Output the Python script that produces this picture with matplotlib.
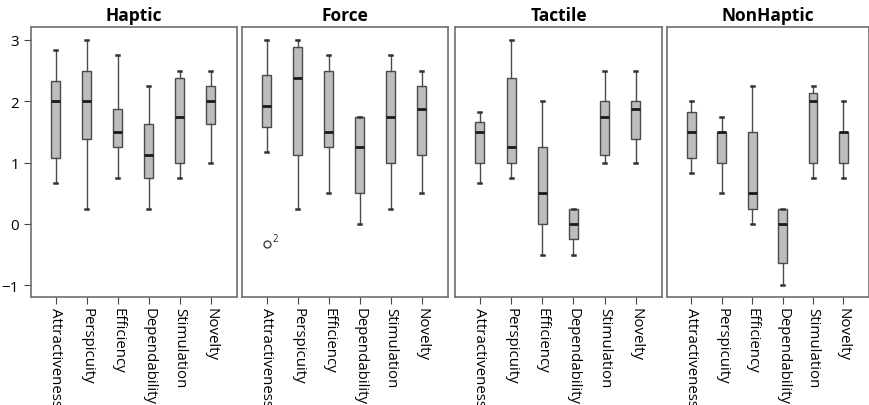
import matplotlib.pyplot as plt

plt.rcParams["font.family"] = ["Open Sans", "DejaVu Sans"]

panels = ["Haptic", "Force", "Tactile", "NonHaptic"]
scales = ["Attractiveness", "Perspicuity", "Efficiency", "Dependability",
          "Stimulation", "Novelty"]

# per scale: (whisker low, Q1, median, Q3, whisker high)
haptic = [(0.67, 1.08, 2.0, 2.33, 2.83),
          (0.25, 1.38, 2.0, 2.5, 3.0),
          (0.75, 1.25, 1.5, 1.88, 2.75),
          (0.25, 0.75, 1.13, 1.63, 2.25),
          (0.75, 1.0, 1.75, 2.38, 2.5),
          (1.0, 1.63, 2.0, 2.25, 2.5)]
force = [(1.17, 1.58, 1.92, 2.42, 3.0),
         (0.25, 1.13, 2.38, 2.88, 3.0),
         (0.5, 1.25, 1.5, 2.5, 2.75),
         (0.0, 0.5, 1.25, 1.75, 1.75),
         (0.25, 1.0, 1.75, 2.5, 2.75),
         (0.5, 1.13, 1.88, 2.25, 2.5)]
tactile = [(0.67, 1.0, 1.5, 1.67, 1.83),
           (0.75, 1.0, 1.25, 2.38, 3.0),
           (-0.5, 0.0, 0.5, 1.25, 2.0),
           (-0.5, -0.25, 0.0, 0.25, 0.25),
           (1.0, 1.13, 1.75, 2.0, 2.5),
           (1.0, 1.38, 1.88, 2.0, 2.5)]
nonhaptic = [(0.83, 1.08, 1.5, 1.83, 2.0),
             (0.5, 1.0, 1.5, 1.5, 1.75),
             (0.0, 0.25, 0.5, 1.5, 2.25),
             (-1.0, -0.63, 0.0, 0.25, 0.25),
             (0.75, 1.0, 2.0, 2.13, 2.25),
             (0.75, 1.0, 1.5, 1.5, 2.0)]
# outliers: (panel, scale index, value, case label)
outliers = [("Force", 0, -0.33, "2")]

data = {"Haptic": haptic, "Force": force, "Tactile": tactile,
        "NonHaptic": nonhaptic}

fig = plt.figure(figsize=(8.7, 4.06), dpi=100)
lefts = [31, 242, 455, 667]
rights = [237, 448, 662, 869]
bottom, top = 298, 28
W, H = 870, 406

frame_col = "#6e6e6e"
for i, name in enumerate(panels):
    ax = fig.add_axes([lefts[i] / W, 1 - bottom / H,
                       (rights[i] - lefts[i]) / W, (bottom - top) / H])
    stats = []
    for lo, q1, med, q3, hi in data[name]:
        stats.append(dict(whislo=lo, q1=q1, med=med, q3=q3, whishi=hi,
                          fliers=[]))
    ax.bxp(stats, positions=range(1, 7), widths=0.29, capwidths=0.1,
           patch_artist=True, showfliers=False,
           boxprops=dict(facecolor="#bdbdbd", edgecolor="#4a4a4a", linewidth=1),
           medianprops=dict(color="#1a1a1a", linewidth=2),
           whiskerprops=dict(color="#4a4a4a", linewidth=1),
           capprops=dict(color="#333333", linewidth=1.8))
    for pname, idx, val, lab in outliers:
        if pname == name:
            ax.plot(idx + 1, val, "o", mfc="white", mec="#444444", ms=5, mew=1)
            ax.annotate(lab, (idx + 1, val), xytext=(4, 2),
                        textcoords="offset points", fontsize=7, color="#222222")
    ax.set_xlim(0.2, 6.84)
    ax.set_ylim(-1.19, 3.21)
    ax.set_xticks(range(1, 7))
    ax.set_xticklabels(scales, rotation=270, fontsize=10.8)
    ax.set_title(name, fontsize=12.5, fontweight="bold", pad=5)
    for s in ax.spines.values():
        s.set_color(frame_col)
        s.set_linewidth(1.2)
    ax.tick_params(axis="x", length=5, color="#444444", pad=2)
    if i == 0:
        ax.set_yticks([-1, 0, 1, 2, 3])
        ax.tick_params(axis="y", length=5, color="#444444", labelsize=11)
    else:
        ax.set_yticks([])

fig.savefig("out.png", dpi=100)
